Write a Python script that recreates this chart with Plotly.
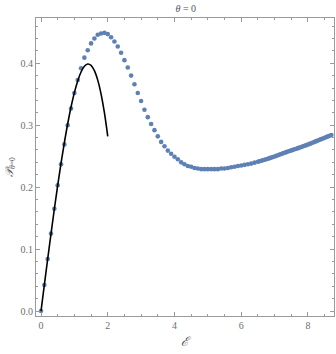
import plotly.graph_objects as go

# Blue dotted series (numerical)
eps_num = [0.0, 0.1, 0.2, 0.3, 0.4, 0.5, 0.6, 0.7, 0.8, 0.9,
           1.0, 1.1, 1.2, 1.3, 1.4, 1.5, 1.6, 1.7, 1.8, 1.9,
           2.0, 2.1, 2.2, 2.3, 2.4, 2.5, 2.6, 2.7, 2.8, 2.9,
           3.0, 3.1, 3.2, 3.3, 3.4, 3.5, 3.6, 3.7, 3.8, 3.9,
           4.0, 4.1, 4.2, 4.3, 4.4, 4.5, 4.6, 4.7, 4.8, 4.9,
           5.0, 5.1, 5.2, 5.3, 5.4, 5.5, 5.6, 5.7, 5.8, 5.9,
           6.0, 6.1, 6.2, 6.3, 6.4, 6.5,
           6.55, 6.6, 6.65, 6.7, 6.75, 6.8, 6.85, 6.9, 6.95, 7.0,
           7.05, 7.1, 7.15, 7.2, 7.25, 7.3, 7.35, 7.4, 7.45, 7.5,
           7.55, 7.6, 7.65, 7.7, 7.75, 7.8, 7.85, 7.9, 7.95, 8.0,
           8.05, 8.1, 8.15, 8.2, 8.25, 8.3, 8.35, 8.4, 8.45, 8.5,
           8.55, 8.6, 8.65, 8.7]
p_num = [0.000, 0.042, 0.084, 0.125, 0.165, 0.203, 0.237, 0.269, 0.300, 0.327,
         0.352, 0.373, 0.392, 0.409, 0.421, 0.432, 0.440, 0.446, 0.448, 0.449,
         0.447, 0.442, 0.435, 0.427, 0.417, 0.405, 0.393, 0.380, 0.366, 0.352,
         0.339, 0.325, 0.313, 0.302, 0.292, 0.282, 0.273, 0.266, 0.259, 0.254,
         0.249, 0.245, 0.240, 0.237, 0.234, 0.233, 0.231, 0.230, 0.229, 0.229,
         0.229, 0.229, 0.229, 0.229, 0.230, 0.230, 0.231, 0.232, 0.233, 0.234,
         0.235, 0.236, 0.237, 0.238, 0.2395, 0.241,
         0.2418, 0.2426, 0.2434, 0.2442, 0.2450, 0.2459, 0.2468, 0.2477, 0.2486, 0.2495,
         0.2505, 0.2515, 0.2525, 0.2535, 0.2545, 0.2555, 0.2565, 0.2575, 0.2584, 0.2593,
         0.2602, 0.2611, 0.2620, 0.2629, 0.2638, 0.2648, 0.2658, 0.2668, 0.2678, 0.2688,
         0.2698, 0.2709, 0.2720, 0.2731, 0.2742, 0.2753, 0.2764, 0.2775, 0.2786, 0.2797,
         0.2808, 0.2819, 0.2830, 0.2841]

# Black solid curve (approximation)
eps_approx = [0.0, 0.1, 0.2, 0.3, 0.4, 0.5, 0.6, 0.7, 0.8, 0.9, 1.0,
              1.1, 1.2, 1.3, 1.4, 1.5, 1.6, 1.7, 1.8, 1.9, 2.0]
p_approx = [0.0, 0.0422, 0.0840, 0.1250, 0.1647, 0.2027, 0.2386, 0.2719, 0.3023, 0.3293, 0.3525,
            0.3715, 0.3858, 0.3950, 0.3987, 0.3966, 0.3880, 0.3727, 0.3502, 0.3201, 0.2820]

x_ticks = [0, 2, 4, 6, 8]
y_ticks = [0.0, 0.1, 0.2, 0.3, 0.4]

FONT = "Liberation Serif, DejaVu Serif, serif"
GRID = "#9a9a9a"
TXT = "#6e6e6e"

fig = go.Figure()
fig.add_trace(go.Scatter(x=eps_num, y=p_num, mode="markers",
                         marker=dict(color="#5E81B5", size=4.6, line=dict(width=0)),
                         showlegend=False))
fig.add_trace(go.Scatter(x=eps_approx, y=p_approx, mode="lines", line_shape="spline",
                         line=dict(color="black", width=1.6), showlegend=False))

fig.update_layout(
    width=336, height=354,
    margin=dict(l=36, r=2, t=18, b=38),
    paper_bgcolor="white", plot_bgcolor="white",
    font=dict(family=FONT, size=10, color=TXT),
    title=dict(text="<i>θ</i> = 0", x=0.553, xanchor="center", y=0.985, yanchor="top",
               font=dict(family=FONT, size=10, color="#555555")),
)
fig.update_xaxes(range=[-0.15, 8.78], tickvals=x_ticks, ticktext=[str(v) for v in x_ticks],
                 showgrid=False, zeroline=False, showline=True, linecolor=GRID, linewidth=1,
                 mirror="ticks", ticks="inside", ticklen=4, tickcolor=GRID,
                 minor=dict(dtick=0.5, ticks="inside", ticklen=2, tickcolor=GRID),
                 tickfont=dict(family=FONT, size=10, color=TXT),
                 title=dict(text="<i>ℰ</i>", font=dict(family=FONT, size=13, color="#555555"), standoff=6))
fig.update_yaxes(range=[-0.008, 0.473], tickvals=y_ticks, ticktext=["0.0", "0.1", "0.2", "0.3", "0.4"],
                 showgrid=False, zeroline=False, showline=True, linecolor=GRID, linewidth=1,
                 mirror="ticks", ticks="inside", ticklen=4, tickcolor=GRID,
                 minor=dict(dtick=0.02, ticks="inside", ticklen=2, tickcolor=GRID),
                 tickfont=dict(family=FONT, size=10, color=TXT),
                 title=dict(text="<i>𝒫</i><sub><i>θ</i>=0</sub>", font=dict(family=FONT, size=11, color="#555555"), standoff=4))

fig.write_html("out.html", config={"displayModeBar": False},
               post_script="document.body.style.margin='0';document.body.style.overflow='hidden';")
